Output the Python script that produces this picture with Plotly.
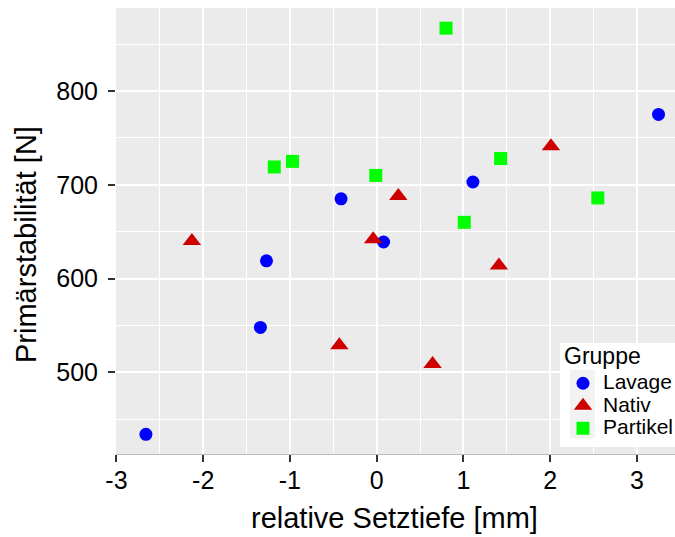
import plotly.graph_objects as go

# Data
lavage_x = [-2.66, -1.34, -1.27, -0.41, 0.08, 1.11, 3.25]
lavage_y = [434, 548, 619, 685, 639, 703, 775]

nativ_x = [-2.13, 0.25, -0.04, 2.01, 1.41, -0.43, 0.645]
nativ_y = [640, 688, 642, 741, 614, 529, 509]

partikel_x = [-1.18, -0.97, 0.80, -0.01, 1.43, 1.01, 2.55]
partikel_y = [719, 725, 867, 710, 728, 660, 686]

group_names = ["Lavage", "Nativ", "Partikel"]

x_ticks = [-3, -2, -1, 0, 1, 2, 3]
x_ticktext = ["-3", "-2", "-1", "0", "1", "2", "3"]
y_ticks = [500, 600, 700, 800]

FONT = "Liberation Sans, Arial, sans-serif"


def legend_label(name):
    return '<span style="font-size:21px">' + name + '</span>'


fig = go.Figure()
fig.add_trace(go.Scatter(x=lavage_x, y=lavage_y, mode="markers", name=legend_label(group_names[0]),
                         marker=dict(symbol="circle", size=13, color="#0000FF", line=dict(width=0))))
fig.add_trace(go.Scatter(x=nativ_x, y=nativ_y, mode="markers", name=legend_label(group_names[1]),
                         marker=dict(symbol="triangle-up", size=16, color="#CD0000", line=dict(width=0))))
fig.add_trace(go.Scatter(x=partikel_x, y=partikel_y, mode="markers", name=legend_label(group_names[2]),
                         marker=dict(symbol="square", size=13, color="#00FF00", line=dict(width=0))))

L, T, B = 116, 8, 83
W, H = 675, 537
pw = W - L
ph = H - T - B


def px_x(p):
    return (p - L) / pw


def px_y(p):
    return (H - B - p) / ph


fig.update_layout(
    width=W, height=H,
    margin=dict(l=L, r=0, t=T, b=B, pad=0, autoexpand=False),
    paper_bgcolor="white",
    plot_bgcolor="#EBEBEB",
    font=dict(family=FONT, color="black"),
    showlegend=True,
    legend=dict(
        font=dict(size=15, family=FONT, color="black"),
        bgcolor="rgba(0,0,0,0)",
        x=px_x(563), y=px_y(367), xanchor="left", yanchor="top",
        itemsizing="trace",
        tracegroupgap=0,
    ),
    xaxis=dict(
        range=[-3.005, 3.44],
        tickvals=x_ticks, ticktext=x_ticktext,
        tickfont=dict(size=25, family=FONT, color="black"),
        ticks="outside", ticklen=7, tickwidth=2, tickcolor="#333333",
        ticklabelstandoff=-3,
        showgrid=True, gridcolor="white", gridwidth=1.6,
        minor=dict(dtick=0.5, tick0=-3, showgrid=True, gridcolor="white", gridwidth=0.8, ticks=""),
        zeroline=False,
        showline=True, linecolor="#BDBDBD", linewidth=1,
        automargin=False,
    ),
    yaxis=dict(
        range=[413, 888.5],
        tickvals=y_ticks,
        tickfont=dict(size=25, family=FONT, color="black"),
        ticks="outside", ticklen=7, tickwidth=2, tickcolor="#333333",
        ticklabelstandoff=5,
        showgrid=True, gridcolor="white", gridwidth=1.6,
        minor=dict(dtick=50, tick0=400, showgrid=True, gridcolor="white", gridwidth=0.8, ticks=""),
        zeroline=False,
        showline=False,
        automargin=False,
    ),
    shapes=[
        dict(type="rect", xref="paper", yref="paper", layer="above",
             x0=px_x(560), x1=px_x(676), y0=px_y(447), y1=px_y(343),
             fillcolor="white", line=dict(width=0)),
        dict(type="rect", xref="paper", yref="paper", layer="above",
             x0=px_x(570), x1=px_x(595), y0=px_y(438), y1=px_y(370),
             fillcolor="#F2F2F2", line=dict(width=0)),
    ],
    annotations=[
        dict(text="Gruppe", xref="paper", yref="paper",
             x=px_x(562), y=px_y(356), xanchor="left", yanchor="middle",
             showarrow=False, font=dict(size=23, family=FONT, color="black")),
        dict(text="relative Setztiefe [mm]", xref="paper", yref="paper",
             x=px_x(394), y=px_y(518), xanchor="center", yanchor="middle",
             showarrow=False, font=dict(size=29, family=FONT, color="black")),
        dict(text="Primärstabilität [N]", xref="paper", yref="paper",
             x=px_x(26), y=px_y(245), xanchor="center", yanchor="middle",
             textangle=-90, showarrow=False, font=dict(size=29, family=FONT, color="black")),
    ],
)

fig.write_html("out.html")
